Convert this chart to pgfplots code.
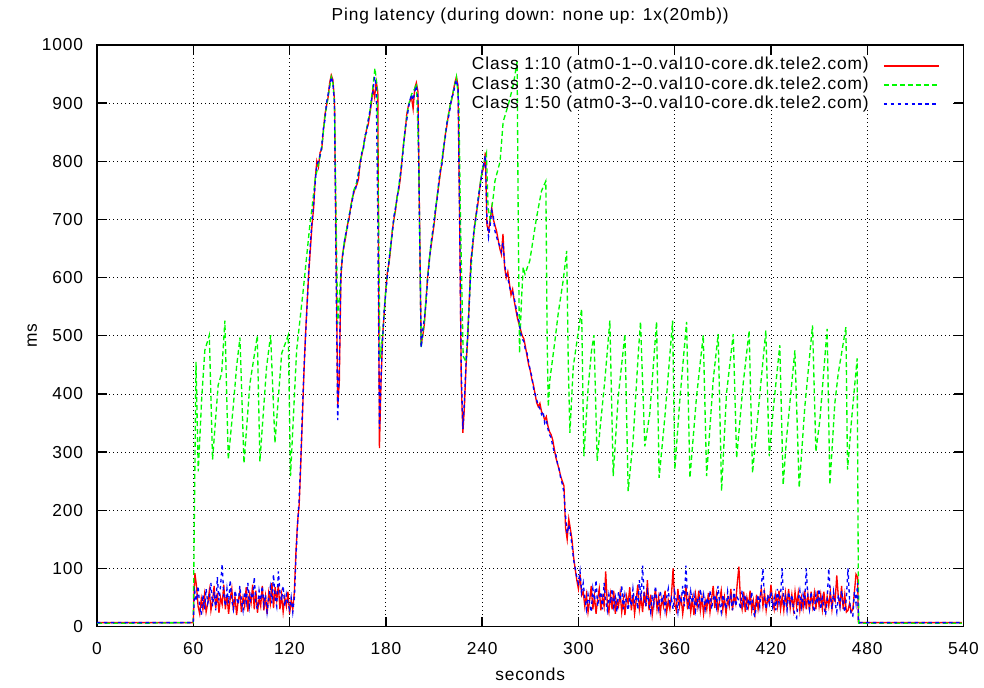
\documentclass[border=0pt]{standalone}
\usepackage{pgfplots}
\pgfplotsset{compat=1.18}
\usepackage{fontspec}
\setmainfont{Liberation Sans}[LetterSpace=5]
\definecolor{gpred}{RGB}{255,0,0}
\definecolor{gpgreen}{RGB}{0,250,0}
\definecolor{gpblue}{RGB}{0,0,255}
\pgfplotsset{
  redline/.style={draw=gpred, line width=1pt},
  greenline/.style={draw=gpgreen, line width=1pt, dash pattern=on 3.75pt off 2.25pt},
  blueline/.style={draw=gpblue, line width=1pt, dash pattern=on 2.6pt off 2.6pt},
}
\begin{document}
\fontsize{13}{15.6}\selectfont
\begin{tikzpicture}
\begin{axis}[
  name=ax,
  scale only axis, width=649.9pt, height=436.3pt,
  xmin=0, xmax=540, ymin=0, ymax=1000,
  xtick={0,60,...,540}, ytick={0,100,...,1000},
  tick pos=both, tick align=inside,
  major tick length=7.5pt,
  axis line style={line width=1pt},
  every tick/.style={black, line width=1pt},
  grid=major,
  major grid style={black, line width=0.6pt, dash pattern=on 0.6pt off 2.4pt},
  /pgf/number format/assume math mode=true,
  /pgf/number format/1000 sep={},
  xticklabel style={anchor=north, inner sep=0pt, yshift=-11.25pt},
  yticklabel style={anchor=east, inner sep=0pt, xshift=-10.3pt},
  legend cell align=right, legend plot pos=right,
  legend style={draw=none, fill=none, at={(rel axis cs:1,1)}, anchor=north east,
    xshift=-14.6pt, yshift=-6.1pt, row sep=0pt, /tikz/column sep=10.5pt,
    nodes={inner sep=0pt, text height=10.4pt, text depth=4pt}},
]
\fill[white] (axis cs:221,888) rectangle (axis cs:532,981);
\addlegendimage{legend image code/.code={\draw[draw=gpred, line width=1.5pt] (0pt,0pt) -- (41.25pt,0pt);}}
\addlegendentry{Class 1:10 (atm0-1\mbox{-}\mbox{-}0.val10-core.dk.tele2.com)}
\addlegendimage{legend image code/.code={\draw[draw=gpgreen, line width=1.5pt, dash pattern=on 3.75pt off 2.25pt] (0pt,0pt) -- (41.25pt,0pt);}}
\addlegendentry{Class 1:30 (atm0-2\mbox{-}\mbox{-}0.val10-core.dk.tele2.com)}
\addlegendimage{legend image code/.code={\draw[draw=gpblue, line width=1.5pt, dash pattern=on 2.6pt off 2.6pt] (0pt,0pt) -- (41.25pt,0pt);}}
\addlegendentry{Class 1:50 (atm0-3\mbox{-}\mbox{-}0.val10-core.dk.tele2.com)}
% Class 1:10 (red)
\addplot[redline, forget plot] coordinates {
(0,7)(30,7)(60,7)(60.5,60)(61,92)(62,70)(63,35)(64,22)(65,48)(66,30)(67,55)(68,25)(69,40)(70,62)(71,28)(72,45)(73,70)(74,32)(75,58)(76,24)(77,50)(78,38)(79,72)(80,30)
(81,55)(82,22)(83,48)(84,65)(85,28)(86,52)(87,20)(88,45)(89,60)(90,25)(91,50)(92,35)(93,68)(94,26)(95,55)(96,40)(97,72)(98,30)(99,62)(100,24)
(101,48)(102,35)(103,70)(104,28)(105,52)(106,22)(107,58)(108,40)(109,75)(110,32)(111,68)(112,45)(113,72)(114,30)(115,55)(116,25)(117,50)(118,35)(119,60)(120,22)
(121,45)(122,30)(123,60)(124,130)(125,180)(126,210)(127,280)(128,360)(129,440)(130,505)(131,560)(132,610)(133,650)(134,690)(135,720)(136,770)(137,800)(138,790)(139,815)(140,820)
(141,850)(142,880)(143,895)(144,910)(145,935)(146,948)(147,940)(148,905)(149,650)(150,380)(151,420)(152,600)(153,640)(154,655)(155,670)(156,690)(157,700)(158,720)(159,735)(160,745)
(161,755)(162,760)(163,770)(164,800)(165,810)(166,825)(167,840)(168,855)(169,863)(170,880)(171,900)(172,925)(173,910)(174,937)(175,920)(176,307)(177,420)(178,500)(179,540)(180,580)
(181,610)(182,625)(183,650)(184,680)(185,700)(186,715)(187,740)(188,750)(189,770)(190,800)(191,830)(192,850)(193,880)(194,895)(195,903)(196,910)(197,890)(198,925)(199,935)(200,920)
(201,700)(202,484)(203,500)(204,520)(205,560)(206,600)(207,630)(208,650)(209,670)(210,690)(211,715)(212,740)(213,760)(214,780)(215,800)(216,820)(217,845)(218,860)(219,880)(220,895)
(221,905)(222,920)(223,935)(224,945)(225,930)(226,700)(227,420)(228,333)(229,380)(230,450)(231,495)(232,560)(233,630)(234,650)(235,680)(236,705)(237,720)(238,740)(239,765)(240,780)
(241,790)(242,815)(243,690)(244,680)(245,700)(246,720)(247,700)(248,690)(249,680)(250,665)(251,650)(252,640)(253,675)(254,618)(255,600)(256,610)(257,590)(258,570)(259,580)(260,560)
(261,545)(262,530)(263,520)(264,510)(265,500)(266,495)(267,481)(268,465)(269,450)(270,440)(271,425)(272,415)(273,400)(274,385)(275,378)(276,384)(277,370)(278,365)(279,355)(280,361)
(281,345)(282,335)(283,330)(284,321)(285,305)(286,290)(287,280)(288,270)(289,258)(290,250)(291,242)(292,170)(293,150)(294,185)(295,168)(296,150)(297,120)(298,99)(299,80)(300,65)
(301,90)(302,54)(303,60)(304,35)(305,55)(306,25)(307,45)(308,70)(309,30)(310,52)(311,22)(312,48)(313,65)(314,28)(315,50)(316,35)(317,95)(318,40)(319,25)(320,55)
(321,30)(322,62)(323,22)(324,45)(325,35)(326,58)(327,25)(328,48)(329,20)(330,52)(331,40)(332,68)(333,28)(334,55)(335,22)(336,45)(337,72)(338,30)(339,50)(340,25)
(341,60)(342,35)(343,80)(344,28)(345,55)(346,20)(347,42)(348,65)(349,30)(350,50)(351,22)(352,48)(353,35)(354,62)(355,25)(356,45)(357,30)(358,55)(359,100)(360,40)
(361,28)(362,65)(363,35)(364,50)(365,22)(366,45)(367,70)(368,30)(369,52)(370,25)(371,48)(372,20)(373,55)(374,35)(375,62)(376,28)(377,50)(378,22)(379,45)(380,30)
(381,58)(382,25)(383,48)(384,70)(385,32)(386,55)(387,28)(388,45)(389,62)(390,30)(391,50)(392,22)(393,48)(394,35)(395,65)(396,28)(397,52)(398,40)(399,75)(400,103)
(401,45)(402,30)(403,60)(404,25)(405,50)(406,35)(407,62)(408,28)(409,45)(410,22)(411,55)(412,30)(413,48)(414,65)(415,35)(416,58)(417,28)(418,50)(419,40)(420,72)
(421,45)(422,30)(423,55)(424,35)(425,62)(426,30)(427,52)(428,28)(429,58)(430,35)(431,65)(432,32)(433,55)(434,30)(435,60)(436,35)(437,58)(438,28)(439,50)(440,32)
(441,62)(442,30)(443,55)(444,28)(445,60)(446,35)(447,58)(448,30)(449,62)(450,35)(451,55)(452,30)(453,60)(454,28)(455,52)(456,35)(457,60)(458,30)(459,55)(460,45)
(461,88)(462,50)(463,35)(464,70)(465,30)(466,55)(467,25)(468,28)(469,40)(470,25)(471,30)(472,60)(473,90)(474,85)(474.5,7)(500,7)(539,7)
};
% Class 1:30 (green)
\addplot[greenline, forget plot] coordinates {
(0,6)(30,6)(60,7)(61.2,330)(61.7,455)(63.1,267)(65.2,390)(67.2,475)(70,501)(72,287)(75.5,415)(77.7,436)(79.7,526)(81.8,287)(84.9,378)(87,447)(89.1,497)(91.6,281)(95.3,418)(99.9,500)
(101.5,284)(105.7,447)(108.2,501)(110.9,316)(115.1,470)(119.2,501)(120.6,259)(124.4,475)(128.5,578)(132.7,692)(134,720)(136,770)(138,795)(140,822)(142,875)(144,910)(146,945)(147,935)(148,900)(149,700)
(150,520)(152,610)(154,660)(156,690)(158,720)(160,750)(162,765)(164,800)(166,825)(168,855)(170,885)(172,930)(173.2,960)(174.5,930)(175.5,700)(176.3,460)(178,500)(180,580)(182,630)(184,680)
(186,720)(188,755)(190,800)(192,855)(194,895)(196,915)(198,925)(199.1,934)(200.5,800)(202,480)(204,525)(206,600)(208,655)(210,695)(212,740)(214,785)(216,825)(218,865)(220,895)(222,920)
(224,945)(225.5,900)(226.5,700)(228.2,465)(230,455)(232,560)(234,655)(236,700)(238,745)(240,785)(242.7,814)(243.7,720)(245,700)(247,740)(248,766)(251.2,800)(253.1,868)(256.3,897)(259.4,931)(261.8,971)
(262.5,700)(263.3,470)(264.5,560)(265.6,618)(266.7,606)(269.7,629)(273.9,703)(277,749)(279.7,766)(280.5,500)(281.2,378)(282.2,424)(285.4,492)(287.4,538)(290.5,595)(292.7,646)(293.7,450)(294.7,333)(296.8,447)(302,546)
(303.4,293)(306.1,412)(308.2,475)(309.7,501)(311.7,285)(313.4,338)(316.5,424)(319.6,526)(321.7,259)(324.8,395)(329,503)(331,233)(334.1,321)(337.3,469)(338.7,524)(341.4,310)(344.5,367)(348.7,524)(350.3,256)(353.9,361)
(358.7,526)(360.1,270)(363.2,390)(367.4,524)(369.5,256)(373.6,395)(377.8,501)(379.9,259)(384,424)(387.1,503)(389.2,233)(392.3,401)(396.5,503)(398.6,290)(402.7,418)(406.4,509)(408.5,264)(413.1,401)(416.8,509)(418.9,293)
(421.4,373)(425.5,484)(427.6,244)(429.7,324)(434.9,475)(437.6,239)(441.1,378)(445.9,518)(448,301)(450.5,356)(455,512)(456.7,244)(459.8,384)(461.9,435)(466.7,515)(467.7,270)(470.2,355)(473.7,461)(474.4,100)(474.8,6)
(500,6)(539,6)
};
% Class 1:50 (blue)
\addplot[blueline, forget plot] coordinates {
(0,7)(30,7)(60,7)(60.5,40)(61,60)(62,45)(63,70)(64,35)(65,20)(66,55)(67,30)(68,65)(69,40)(70,50)(71,75)(72,35)(73,60)(74,28)(75,85)(76,45)(77,70)(78,108)(79,55)(80,35)
(81,65)(82,40)(83,80)(84,45)(85,30)(86,62)(87,50)(88,38)(89,70)(90,45)(91,28)(92,60)(93,42)(94,75)(95,35)(96,55)(97,48)(98,85)(99,40)(100,30)
(101,62)(102,45)(103,70)(104,38)(105,55)(106,25)(107,48)(108,68)(109,40)(110,90)(111,50)(112,35)(113,95)(114,60)(115,45)(116,70)(117,35)(118,55)(119,40)(120,30)
(121,50)(122,25)(123,50)(124,120)(125,175)(126,220)(127,290)(128,370)(129,445)(130,500)(131,555)(132,615)(133,660)(134,700)(135,725)(136,765)(137,795)(138,800)(139,810)(140,825)
(141,855)(142,870)(143,900)(144,915)(145,930)(146,945)(147,935)(148,900)(149,600)(150,355)(151,450)(152,610)(153,635)(154,660)(155,675)(156,685)(157,705)(158,715)(159,730)(160,750)
(161,750)(162,765)(163,780)(164,795)(165,815)(166,820)(167,845)(168,850)(169,870)(170,885)(171,905)(172,920)(173,945)(174,930)(175,700)(176,340)(177,430)(178,495)(179,545)(180,575)
(181,605)(182,630)(183,655)(184,675)(185,705)(186,720)(187,735)(188,755)(189,775)(190,795)(191,825)(192,855)(193,870)(194,890)(195,905)(196,915)(197,905)(198,920)(199,930)(200,910)
(201,690)(202,480)(203,510)(204,530)(205,555)(206,595)(207,625)(208,655)(209,675)(210,695)(211,720)(212,735)(213,765)(214,785)(215,795)(216,825)(217,840)(218,865)(219,875)(220,890)
(221,910)(222,915)(223,930)(224,940)(225,925)(226,690)(227,440)(228,340)(229,390)(230,455)(231,500)(232,555)(233,625)(234,655)(235,685)(236,700)(237,725)(238,745)(239,760)(240,785)
(241,795)(242,810)(243,700)(244,670)(245,690)(246,715)(247,705)(248,680)(249,670)(250,660)(251,655)(252,645)(253,660)(254,625)(255,605)(256,600)(257,585)(258,575)(259,575)(260,565)
(261,550)(262,535)(263,525)(264,505)(265,495)(266,490)(267,475)(268,470)(269,455)(270,440)(271,430)(272,410)(273,400)(274,390)(275,380)(276,375)(277,365)(278,370)(279,350)(280,355)
(281,340)(282,330)(283,325)(284,310)(285,300)(286,295)(287,280)(288,270)(289,255)(290,245)(291,230)(292,190)(293,160)(294,175)(295,160)(296,140)(297,115)(298,100)(299,85)(300,75)
(301,95)(302,60)(303,75)(304,50)(305,30)(306,55)(307,40)(308,25)(309,65)(310,45)(311,80)(312,35)(313,50)(314,60)(315,30)(316,75)(317,45)(318,28)(319,55)(320,40)
(321,65)(322,35)(323,50)(324,25)(325,60)(326,45)(327,70)(328,30)(329,55)(330,40)(331,28)(332,50)(333,35)(334,65)(335,40)(336,55)(337,30)(338,80)(339,45)(340,105)
(341,50)(342,35)(343,60)(344,40)(345,25)(346,55)(347,38)(348,70)(349,45)(350,30)(351,62)(352,40)(353,55)(354,28)(355,50)(356,65)(357,35)(358,48)(359,30)(360,60)
(361,45)(362,25)(363,55)(364,40)(365,70)(366,35)(367,105)(368,50)(369,30)(370,60)(371,40)(372,55)(373,28)(374,48)(375,35)(376,65)(377,40)(378,55)(379,30)(380,50)
(381,38)(382,62)(383,30)(384,48)(385,55)(386,35)(387,70)(388,40)(389,25)(390,55)(391,45)(392,30)(393,60)(394,40)(395,52)(396,28)(397,65)(398,35)(399,50)(400,45)
(401,30)(402,62)(403,40)(404,55)(405,28)(406,48)(407,35)(408,60)(409,25)(410,17)(411,40)(412,55)(413,35)(414,70)(415,100)(416,45)(417,30)(418,55)(419,40)(420,60)
(421,35)(422,50)(423,28)(424,65)(425,40)(426,55)(427,100)(428,35)(429,50)(430,28)(431,60)(432,40)(433,55)(434,30)(435,20)(436,15)(437,45)(438,62)(439,35)(440,55)
(441,40)(442,100)(443,50)(444,30)(445,60)(446,38)(447,25)(448,55)(449,40)(450,65)(451,30)(452,50)(453,35)(454,20)(455,45)(456,100)(457,55)(458,30)(459,60)(460,40)
(461,25)(462,55)(463,35)(464,62)(465,40)(466,25)(467,50)(468,100)(469,45)(470,20)(471,18)(472,60)(473,40)(474,75)(474.5,7)(500,7)(539,7)
};
\end{axis}
\node[anchor=base] at ([yshift=18.2pt]ax.north) {Ping latency (during down: none up: 1x(20mb))};
\node[anchor=base] at ([yshift=-40.4pt]ax.south) {seconds};
\node[anchor=base, rotate=90] at ([xshift=-45pt]ax.west) {ms};
\pgfresetboundingbox
\path[use as bounding box] (ax.south west) ++(-72.75pt,-46pt) rectangle ++(738pt,516pt);
\end{tikzpicture}
\end{document}
